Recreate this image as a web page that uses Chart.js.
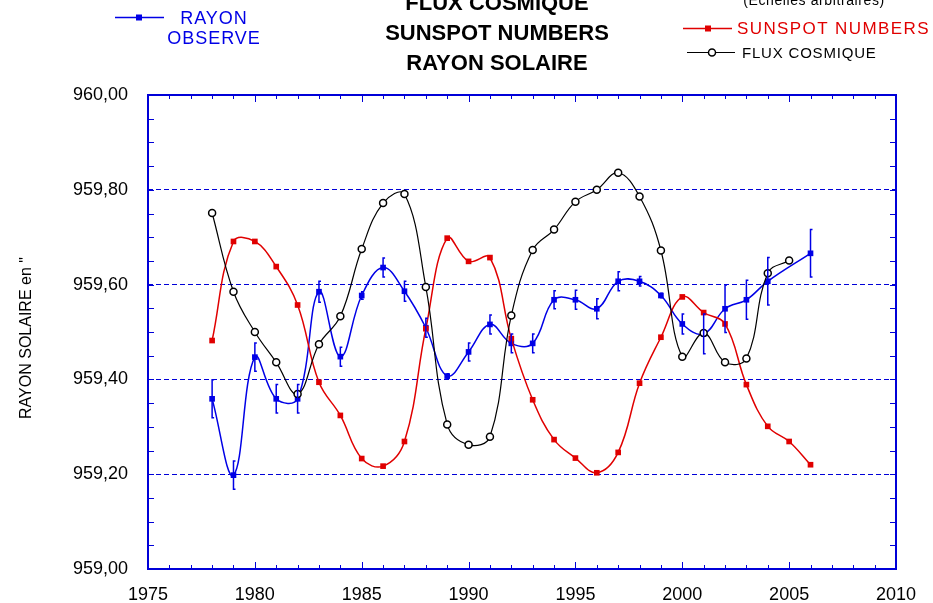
<!DOCTYPE html>
<html lang="fr">
<head>
<meta charset="utf-8">
<title>Flux cosmique - Sunspot numbers - Rayon solaire</title>
<script src="https://cdn.jsdelivr.net/npm/chart.js@4.4.1/dist/chart.umd.min.js"></script>
<style>
  html, body { margin: 0; padding: 0; background: #fff; }
  #wrap { width: 933px; height: 603px; }
</style>
</head>
<body>
<div id="wrap"><canvas id="soleilChart"></canvas></div>
<script>
// Données
const rayonYears = [1978, 1979, 1980, 1981, 1982, 1983, 1984, 1985, 1986, 1987, 1988, 1989, 1990, 1991,
                    1992, 1993, 1994, 1995, 1996, 1997, 1998, 1999, 2000, 2001, 2002, 2003, 2004, 2006];
const rayonValues = [959.359, 959.198, 959.447, 959.359, 959.359, 959.585, 959.448, 959.577, 959.636, 959.586,
                     959.509, 959.407, 959.458, 959.516, 959.476, 959.476, 959.568, 959.568, 959.549, 959.607,
                     959.607, 959.577, 959.517, 959.496, 959.549, 959.568, 959.607, 959.666];
const rayonErrors = [0.040, 0.030, 0.030, 0.030, 0.030, 0.022, 0.020, 0.008, 0.020, 0.021,
                     0.020, 0.005, 0.019, 0.020, 0.020, 0.020, 0.019, 0.020, 0.021, 0.020,
                     0.010, 0.005, 0.021, 0.042, 0.050, 0.041, 0.050, 0.050];

const sunspotYears = [1978, 1979, 1980, 1981, 1982, 1983, 1984, 1985, 1986, 1987, 1988, 1989, 1990, 1991, 1992,
                      1993, 1994, 1995, 1996, 1997, 1998, 1999, 2000, 2001, 2002, 2003, 2004, 2005, 2006];
const sunspotValues = [959.482, 959.691, 959.691, 959.638, 959.557, 959.394, 959.324, 959.233, 959.217, 959.269,
                       959.507, 959.698, 959.649, 959.657, 959.486, 959.357, 959.273, 959.234, 959.203, 959.246,
                       959.392, 959.489, 959.574, 959.541, 959.517, 959.389, 959.301, 959.269, 959.220];

const fluxYears = [1978, 1979, 1980, 1981, 1982, 1983, 1984, 1985, 1986, 1987, 1988, 1989, 1990, 1991,
                   1992, 1993, 1994, 1995, 1996, 1997, 1998, 1999, 2000, 2001, 2002, 2003, 2004, 2005];
const fluxValues = [959.751, 959.585, 959.500, 959.436, 959.369, 959.474, 959.533, 959.675, 959.772, 959.791,
                    959.595, 959.305, 959.262, 959.279, 959.535, 959.673, 959.716, 959.775, 959.800, 959.836,
                    959.786, 959.672, 959.448, 959.498, 959.436, 959.444, 959.624, 959.651];

const titleLines = ['FLUX COSMIQUE', 'SUNSPOT NUMBERS', 'RAYON SOLAIRE'];
const yTitle = 'RAYON SOLAIRE en "';

const X_MIN = 1975, X_MAX = 2010;
const Y_MIN = 959, Y_MAX = 960;

const BLEU = '#0000e6';
const BLEU_AXE = '#0000d8';
const ROUGE = '#e00000';
const NOIR = '#000000';
const POLICE = "Arial, 'Liberation Sans', sans-serif";

const toPoints = (xs, ys) => xs.map((x, i) => ({ x: x, y: ys[i] }));

// Cadre + graduations vers l'intérieur
const cadrePlugin = {
    id: 'cadre',
    beforeDatasetsDraw(chart) {
        const { ctx, chartArea: a, scales: { x, y } } = chart;
        ctx.save();
        ctx.strokeStyle = BLEU_AXE;
        ctx.lineWidth = 1;
        ctx.beginPath();
        for (let yr = X_MIN; yr <= X_MAX; yr++) {
            const px = Math.round(x.getPixelForValue(yr)) + 0.5;
            const len = yr % 5 === 0 ? 7 : 4;
            ctx.moveTo(px, a.bottom); ctx.lineTo(px, a.bottom - len);
            ctx.moveTo(px, a.top); ctx.lineTo(px, a.top + len);
        }
        for (let i = 0; i <= 20; i++) {
            const py = Math.round(y.getPixelForValue(Y_MIN + i * 0.05)) + 0.5;
            ctx.moveTo(a.left, py); ctx.lineTo(a.left + 6, py);
            ctx.moveTo(a.right, py); ctx.lineTo(a.right - 6, py);
        }
        ctx.stroke();
        ctx.lineWidth = 2;
        ctx.strokeRect(a.left, a.top, a.right - a.left, a.bottom - a.top);
        ctx.restore();
    }
};

// Barres d'erreur du rayon observé
const erreursPlugin = {
    id: 'erreurs',
    afterDatasetsDraw(chart) {
        const { ctx, scales: { x, y } } = chart;
        ctx.save();
        ctx.strokeStyle = BLEU;
        ctx.lineWidth = 1.5;
        ctx.beginPath();
        rayonYears.forEach((yr, i) => {
            const e = rayonErrors[i];
            if (!e) return;
            const px = x.getPixelForValue(yr);
            const top = y.getPixelForValue(rayonValues[i] + e);
            const bot = y.getPixelForValue(rayonValues[i] - e);
            ctx.moveTo(px + 2, top); ctx.lineTo(px, top); ctx.lineTo(px, bot); ctx.lineTo(px + 2, bot);
        });
        ctx.stroke();
        ctx.restore();
    }
};

function texte(ctx, txt, x, y, font, color, align, espace) {
    ctx.font = font;
    ctx.fillStyle = color;
    ctx.textAlign = align;
    ctx.textBaseline = 'alphabetic';
    ctx.letterSpacing = (espace || 0) + 'px';
    ctx.fillText(txt, x, y);
    ctx.letterSpacing = '0px';
}

function marqueur(ctx, style, x, y, color) {
    if (style === 'rect') {
        ctx.fillStyle = color;
        ctx.fillRect(x - 3, y - 3, 6, 6);
    } else {
        ctx.beginPath();
        ctx.arc(x, y, 3.5, 0, Math.PI * 2);
        ctx.fillStyle = '#fff';
        ctx.fill();
        ctx.lineWidth = 1.5;
        ctx.strokeStyle = color;
        ctx.stroke();
    }
}

// Titres, titre de l'axe Y et légendes
const legendePlugin = {
    id: 'legende',
    afterDraw(chart) {
        const ctx = chart.ctx;
        ctx.save();

        titleLines.forEach((t, i) => {
            texte(ctx, t, 497, 10 + i * 30, 'bold 22px ' + POLICE, NOIR, 'center', 0);
        });

        // titre vertical de l'axe Y
        ctx.save();
        ctx.translate(31, 338);
        ctx.rotate(-Math.PI / 2);
        texte(ctx, yTitle, 0, 0, '16px ' + POLICE, NOIR, 'center', 0);
        ctx.restore();

        // gauche : rayon observé
        ctx.strokeStyle = BLEU; ctx.lineWidth = 1.5;
        ctx.beginPath(); ctx.moveTo(115, 17.5); ctx.lineTo(164, 17.5); ctx.stroke();
        marqueur(ctx, 'rect', 139, 17.5, BLEU);
        texte(ctx, 'RAYON', 214, 24, '18px ' + POLICE, BLEU, 'center', 1);
        texte(ctx, 'OBSERVE', 214, 44, '18px ' + POLICE, BLEU, 'center', 1);

        // droite
        texte(ctx, '(Echelles arbitraires)', 814, 5, '14px ' + POLICE, NOIR, 'center', 0.6);

        ctx.strokeStyle = ROUGE; ctx.lineWidth = 1.5;
        ctx.beginPath(); ctx.moveTo(683, 28.5); ctx.lineTo(732, 28.5); ctx.stroke();
        marqueur(ctx, 'rect', 708, 28.5, ROUGE);
        texte(ctx, 'SUNSPOT NUMBERS', 737, 33.5, '17px ' + POLICE, ROUGE, 'left', 1.4);

        ctx.strokeStyle = NOIR; ctx.lineWidth = 1.2;
        ctx.beginPath(); ctx.moveTo(687, 52.5); ctx.lineTo(735, 52.5); ctx.stroke();
        marqueur(ctx, 'circle', 712, 52.5, NOIR);
        texte(ctx, 'FLUX COSMIQUE', 742, 57.5, '15px ' + POLICE, NOIR, 'left', 0.8);

        ctx.restore();
    }
};

const ctx = document.getElementById('soleilChart').getContext('2d');
const soleilChart = new Chart(ctx, {
    type: 'line',
    data: {
        datasets: [
            {
                label: 'FLUX COSMIQUE',
                data: toPoints(fluxYears, fluxValues),
                borderColor: NOIR, borderWidth: 1.2,
                pointStyle: 'circle', pointRadius: 3.5,
                pointBackgroundColor: '#fff', pointBorderColor: NOIR, pointBorderWidth: 1.5,
                tension: 0.4
            },
            {
                label: 'SUNSPOT NUMBERS',
                data: toPoints(sunspotYears, sunspotValues),
                borderColor: ROUGE, borderWidth: 1.5,
                pointStyle: 'rect', pointRadius: 4,
                pointBackgroundColor: ROUGE, pointBorderColor: ROUGE, pointBorderWidth: 0,
                tension: 0.4
            },
            {
                label: 'RAYON OBSERVE',
                data: toPoints(rayonYears, rayonValues),
                borderColor: BLEU, borderWidth: 1.5,
                pointStyle: 'rect', pointRadius: 4,
                pointBackgroundColor: BLEU, pointBorderColor: BLEU, pointBorderWidth: 0,
                tension: 0.4
            }
        ]
    },
    options: {
        responsive: true,
        maintainAspectRatio: false,
        animation: false,
        devicePixelRatio: 1,
        layout: { padding: { left: 0, right: 37, top: 95, bottom: 0 } },
        plugins: {
            legend: { display: false },
            title: { display: false },
            tooltip: { enabled: false }
        },
        scales: {
            x: {
                type: 'linear',
                min: X_MIN, max: X_MAX,
                ticks: {
                    stepSize: 5, padding: 15, color: NOIR,
                    font: { family: POLICE, size: 18 },
                    callback: v => String(v)
                },
                grid: { display: false, drawTicks: false },
                border: { display: false },
                afterFit(scale) { scale.height = 34; }
            },
            y: {
                min: Y_MIN, max: Y_MAX,
                ticks: {
                    stepSize: 0.2, padding: 20, color: NOIR,
                    font: { family: POLICE, size: 18 },
                    callback: v => v.toFixed(2).replace('.', ',')
                },
                grid: {
                    drawTicks: false,
                    color: c => (Math.abs(c.tick.value - Y_MIN) < 1e-6 || Math.abs(c.tick.value - Y_MAX) < 1e-6) ? 'rgba(0,0,0,0)' : BLEU_AXE,
                    lineWidth: 1
                },
                border: { display: false, dash: [5, 3] },
                afterFit(scale) { scale.width = 148; }
            }
        }
    },
    plugins: [cadrePlugin, erreursPlugin, legendePlugin]
});
</script>
</body>
</html>
